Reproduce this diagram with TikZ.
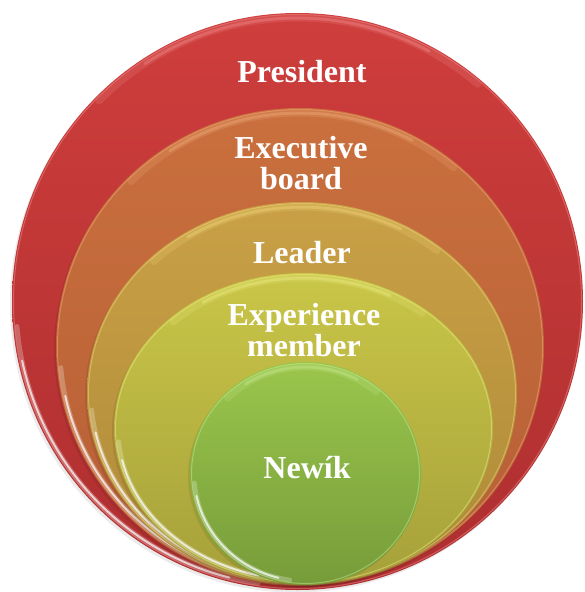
\documentclass[tikz,border=0pt]{standalone}
\usepackage{fontspec}
\setmainfont{Liberation Serif}
\usetikzlibrary{calc}
\definecolor{redT}{RGB}{206,62,60}\definecolor{redB}{RGB}{174,46,48}\definecolor{redH}{RGB}{244,150,150}
\definecolor{oraT}{RGB}{202,112,62}\definecolor{oraB}{RGB}{182,94,54}\definecolor{oraH}{RGB}{245,180,130}
\definecolor{golT}{RGB}{201,160,70}\definecolor{golB}{RGB}{174,138,56}\definecolor{golH}{RGB}{248,222,130}
\definecolor{ygrT}{RGB}{201,198,72}\definecolor{ygrB}{RGB}{166,160,58}\definecolor{ygrH}{RGB}{242,242,140}
\definecolor{grnT}{RGB}{154,198,76}\definecolor{grnB}{RGB}{118,156,58}\definecolor{grnH}{RGB}{205,238,155}
\newcommand\drawlayer[8]{%
  % #1 name, #2 cx, #3 cy, #4 rx, #5 ry, #6 top colour, #7 bottom colour, #8 highlight colour
  \coordinate (#1) at (#2,#3);
  \pgfmathsetmacro\rxa{#4-1.5}\pgfmathsetmacro\rya{#5-1.5}%
  \pgfmathsetmacro\rxb{#4-4}\pgfmathsetmacro\ryb{#5-4}%
  \pgfmathsetmacro\rxc{#4-5}\pgfmathsetmacro\ryc{#5-5}%
  \fill[black, opacity=0.08] ($(#1)+(-2pt,-2.5pt)$) ellipse [x radius=#4pt, y radius=#5pt];
  \path[top color=#6, bottom color=#7] (#1) ellipse [x radius=#4pt, y radius=#5pt];
  \draw[draw=#8, line width=1pt, opacity=0.45] (#1) ellipse [x radius=\rxa pt, y radius=\rya pt];
  \draw[glow, draw=#8, line width=7pt, opacity=0.18] ($(#1)+(50:\rxc pt and \ryc pt)$) arc[start angle=50, end angle=135, x radius=\rxc pt, y radius=\ryc pt];
  \draw[glow, draw=#8] ($(#1)+(62:\rxc pt and \ryc pt)$) arc[start angle=62, end angle=123, x radius=\rxc pt, y radius=\ryc pt];
  \draw[rim, line width=4.5pt, opacity=0.25] ($(#1)+(185:\rxb pt and \ryb pt)$) arc[start angle=185, end angle=262, x radius=\rxb pt, y radius=\ryb pt];
  \draw[rim] ($(#1)+(192:\rxb pt and \ryb pt)$) arc[start angle=192, end angle=256, x radius=\rxb pt, y radius=\ryb pt];
}
\begin{document}
\begin{tikzpicture}[x=1pt,y=-1pt,
  lbl/.style={text=white, font=\fontsize{32}{31}\selectfont\bfseries, align=center, inner sep=0pt},
  rim/.style={draw=white, line width=2pt, line cap=round, opacity=0.7},
  glow/.style={line width=3pt, line cap=round, opacity=0.35},
]
\useasboundingbox (0,0) rectangle (584,592);
\fill[white] (0,0) rectangle (584,592);

\drawlayer{president}{297.5}{301.5}{285.5}{288.5}{redT}{redB}{redH}
\drawlayer{executive}{300}{347}{244}{239}{oraT}{oraB}{oraH}
\drawlayer{leader}{302}{393.5}{215}{191.5}{golT}{golB}{golH}
\drawlayer{experience}{303.5}{428.5}{189.5}{155.5}{ygrT}{ygrB}{ygrH}
\drawlayer{newik}{305.5}{473.5}{115.5}{111.5}{grnT}{grnB}{grnH}

\node[lbl, anchor=base] (tpresident) at (302,82) {President};
\node[lbl] (texecutive) at (301,163) {Executive\\board};
\node[lbl, anchor=base] (tleader) at (302,263) {Leader};
\node[lbl] (texperience) at (304,330) {Experience\\member};
\node[lbl, anchor=base] (tnewik) at (307,478) {Newík};
\end{tikzpicture}
\end{document}
